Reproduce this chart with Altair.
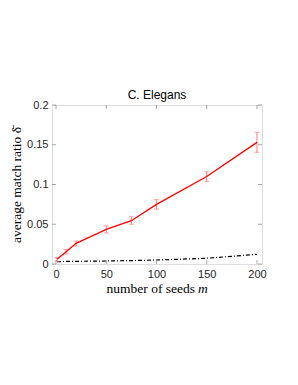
import altair as alt
import pandas as pd

seeds = [1, 10, 20, 50, 75, 100, 150, 200]
red_mean = [0.0059, 0.0155, 0.026, 0.0436, 0.0545, 0.075, 0.110, 0.153]
red_lo = [0.0034, 0.0126, 0.0226, 0.039, 0.050, 0.069, 0.104, 0.1405]
red_hi = [0.008, 0.0184, 0.029, 0.048, 0.0595, 0.081, 0.116, 0.1656]
black_mean = [0.0030, 0.0032, 0.0033, 0.0038, 0.0043, 0.0050, 0.0072, 0.0122]
x_ticks = [0, 50, 100, 150, 200]
y_ticks = [0, 0.05, 0.1, 0.15, 0.2]

red = pd.DataFrame({"m": seeds, "v": red_mean, "lo": red_lo, "hi": red_hi})
black = pd.DataFrame({"m": seeds, "v": black_mean})
xt = pd.DataFrame({"t": x_ticks})
yt = pd.DataFrame({"t": y_ticks})
one = pd.DataFrame({"a": [0]})

W, H = 210, 159
xs = alt.Scale(domain=[-4, 205], nice=False)
ys = alt.Scale(domain=[0, 0.2], nice=False)
gray = "#808080"
txt = "#262626"

xaxis = alt.Axis(values=x_ticks, tickSize=0, labelPadding=4, domain=False, grid=False,
                 labelOverlap=False, title=None,
                 labelFont="Liberation Sans", labelFontSize=11, labelColor=txt)
yaxis = alt.Axis(values=y_ticks, tickSize=0, labelPadding=4, domain=False, grid=False,
                 labelOverlap=False,
                 format="~g", title="average match ratio δ̄", titleFont="Liberation Serif",
                 titleFontSize=13.5, titleFontWeight="normal", titleColor="#000", titlePadding=3,
                 labelFont="Liberation Sans", labelFontSize=11, labelColor=txt)


def X(f):
    return alt.X(f, type="quantitative", scale=xs, axis=xaxis)


def Y(f):
    return alt.Y(f, type="quantitative", scale=ys, axis=yaxis)


black_line = alt.Chart(black).mark_line(color="black", strokeWidth=1.2,
                                        strokeDash=[4, 2, 1, 2]).encode(x=X("m"), y=Y("v"))
err = alt.Chart(red).mark_rule(color="#ff7f7f", strokeWidth=1).encode(
    x=X("m"), y=Y("lo"), y2="hi:Q")
cap_lo = alt.Chart(red).mark_tick(color="#ff7f7f", orient="horizontal", size=5,
                                  thickness=1).encode(x=X("m"), y=Y("lo"))
cap_hi = alt.Chart(red).mark_tick(color="#ff7f7f", orient="horizontal", size=5,
                                  thickness=1).encode(x=X("m"), y=Y("hi"))
red_line = alt.Chart(red).mark_line(color="#ff0000", strokeWidth=1.3).encode(
    x=X("m"), y=Y("v"))

tk = dict(color=gray, thickness=1, size=4)
xb = alt.Chart(xt).mark_tick(orient="vertical", **tk).encode(x=X("t"), y=alt.value(H - 2))
xtop = alt.Chart(xt).mark_tick(orient="vertical", **tk).encode(x=X("t"), y=alt.value(2))
yl = alt.Chart(yt).mark_tick(orient="horizontal", **tk).encode(y=Y("t"), x=alt.value(2))
yr = alt.Chart(yt).mark_tick(orient="horizontal", **tk).encode(y=Y("t"), x=alt.value(W - 2))

xt1 = alt.Chart(one).mark_text(text="number of seeds", font="Liberation Serif", fontSize=13.5,
                               align="right", baseline="middle", color="#000").encode(
    x=alt.value(143), y=alt.value(184))
xt2 = alt.Chart(one).mark_text(text="m", font="Liberation Serif", fontSize=13.5,
                               fontStyle="italic", align="left", baseline="middle",
                               color="#000").encode(x=alt.value(146), y=alt.value(184))

chart = alt.layer(black_line, err, cap_lo, cap_hi, red_line, xb, xtop, yl, yr,
                  xt1, xt2).properties(
    width=W, height=H,
    title=alt.TitleParams("C. Elegans", font="Liberation Sans", fontSize=12,
                          fontWeight="normal", color="#000", offset=-3),
    autosize=alt.AutoSizeParams(type="none"),
    padding={"left": 44, "top": 97, "right": 20, "bottom": 40},
).configure_view(stroke=gray, strokeWidth=1).configure(background="white")

chart.save("out.html", embed_options={"renderer": "svg", "actions": False})
